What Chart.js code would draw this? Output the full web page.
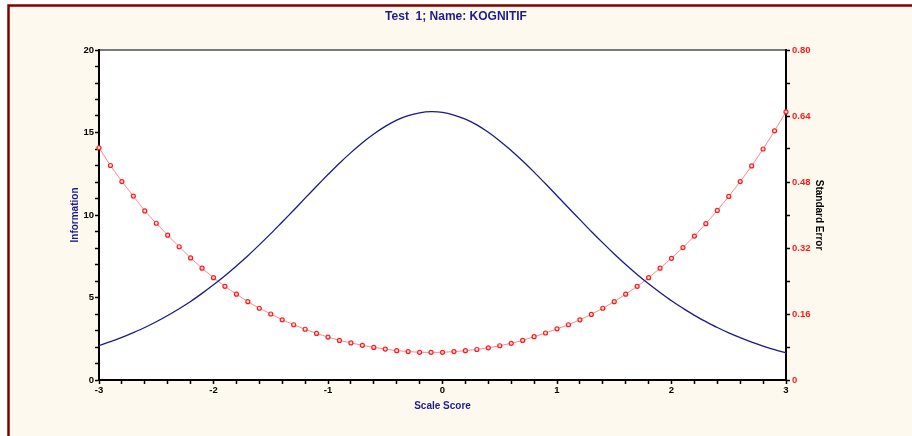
<!DOCTYPE html>
<html lang="en">
<head>
<meta charset="UTF-8">
<script src="https://cdn.jsdelivr.net/npm/chart.js"></script>
<style>
    html, body { margin: 0; padding: 0; background: #fff; }
    #wrap { width: 912px; height: 436px; }
</style>
<title>Test 1 - KOGNITIF</title>
</head>
<body>
<div id="wrap"><canvas id="myChart" width="912" height="436"></canvas></div>
<script>
// scale score grid (x)
const scores = [
    -3.0, -2.9, -2.8, -2.7, -2.6, -2.5, -2.4, -2.3, -2.2, -2.1,
    -2.0, -1.9, -1.8, -1.7, -1.6, -1.5, -1.4, -1.3, -1.2, -1.1,
    -1.0, -0.9, -0.8, -0.7, -0.6, -0.5, -0.4, -0.3, -0.2, -0.1,
     0.0,  0.1,  0.2,  0.3,  0.4,  0.5,  0.6,  0.7,  0.8,  0.9,
     1.0,  1.1,  1.2,  1.3,  1.4,  1.5,  1.6,  1.7,  1.8,  1.9,
     2.0,  2.1,  2.2,  2.3,  2.4,  2.5,  2.6,  2.7,  2.8,  2.9,  3.0
];

// test information (left axis)
const information = [
     2.08,  2.32,  2.58,  2.87,  3.18,  3.53,  3.91,  4.32,  4.76,  5.25,
     5.77,  6.32,  6.91,  7.53,  8.19,  8.87,  9.58, 10.29, 11.02, 11.74,
    12.45, 13.14, 13.78, 14.38, 14.91, 15.37, 15.75, 16.02, 16.19, 16.26,
    16.22, 16.06, 15.81, 15.46, 15.01, 14.49, 13.91, 13.27, 12.60, 11.89,
    11.17, 10.44,  9.72,  9.00,  8.31,  7.64,  7.00,  6.40,  5.83,  5.30,
     4.80,  4.35,  3.92,  3.54,  3.18,  2.86,  2.57,  2.30,  2.06,  1.84,  1.65
];

// standard error (right axis)
const stdError = [
    0.563, 0.520, 0.481, 0.446, 0.410, 0.380, 0.351, 0.323, 0.296, 0.271,
    0.248, 0.227, 0.208, 0.190, 0.174, 0.160, 0.146, 0.134, 0.123, 0.113,
    0.104, 0.096, 0.090, 0.084, 0.079, 0.075, 0.071, 0.069, 0.067, 0.067,
    0.067, 0.069, 0.071, 0.074, 0.078, 0.083, 0.089, 0.096, 0.105, 0.114,
    0.124, 0.134, 0.146, 0.159, 0.174, 0.190, 0.208, 0.227, 0.248, 0.271,
    0.295, 0.321, 0.349, 0.379, 0.411, 0.445, 0.481, 0.519, 0.560, 0.604, 0.650
];

// labelled ticks
const scoreLabels = [-3, -2, -1, 0, 1, 2, 3];
const infoLabels = [0, 5, 10, 15, 20];
const seLabels = [0, 0.16, 0.32, 0.48, 0.64, 0.80];

const FONT = "'Liberation Sans', Arial, sans-serif";
const NAVY = '#1c1c8e';

function near(v, list) {
    return list.some(t => Math.abs(t - v) < 1e-6);
}

// cream panel, dark red frame, white plot area
const framePlugin = {
    id: 'frame',
    beforeDraw: (chart) => {
        const ctx = chart.ctx;
        const a = chart.chartArea;
        const w = chart.width, h = chart.height;
        ctx.save();
        ctx.fillStyle = '#ffffff';
        ctx.fillRect(0, 0, w, h);
        ctx.fillStyle = '#fef9ee';
        ctx.fillRect(9, 6, w, h);
        ctx.strokeStyle = '#800000';
        ctx.lineWidth = 2.5;
        ctx.beginPath();
        ctx.moveTo(8.5, h + 5);
        ctx.lineTo(8.5, 5.5);
        ctx.lineTo(w + 5, 5.5);
        ctx.stroke();
        ctx.fillStyle = '#ffffff';
        ctx.fillRect(a.left, a.top, a.right - a.left, a.bottom - a.top);
        ctx.strokeStyle = '#7a7a7a';
        ctx.lineWidth = 2;
        ctx.beginPath();
        ctx.moveTo(a.left, a.top);
        ctx.lineTo(a.right, a.top);
        ctx.stroke();
        ctx.restore();
    }
};

const data = {
    datasets: [
        {
            label: 'Information',
            data: scores.map((s, i) => ({ x: s, y: information[i] })),
            yAxisID: 'y',
            borderColor: '#1a1a8a',
            borderWidth: 1.3,
            pointRadius: 0,
            tension: 0.3,
        },
        {
            label: 'Standard Error',
            data: scores.map((s, i) => ({ x: s, y: stdError[i] })),
            yAxisID: 'y1',
            borderColor: '#ff8a8a',
            borderWidth: 1,
            pointRadius: 2,
            pointBorderWidth: 1.2,
            pointBorderColor: '#ff1a1a',
            pointBackgroundColor: '#ffe0e0',
            clip: 4,
        }
    ]
};

const tickFont = { family: FONT, size: 9.5, weight: 'bold' };
const titleFont = { family: FONT, size: 10, weight: 'bold' };

const config = {
    type: 'line',
    data: data,
    plugins: [framePlugin],
    options: {
        responsive: false,
        animation: false,
        events: [],
        layout: { padding: 0 },
        plugins: {
            legend: { display: false },
            tooltip: { enabled: false },
            title: {
                display: true,
                text: 'Test  1; Name: KOGNITIF',
                color: NAVY,
                font: { family: FONT, size: 12, weight: 'bold' },
                padding: { top: 9, bottom: 26.6 }
            }
        },
        scales: {
            x: {
                type: 'linear',
                min: -3,
                max: 3,
                afterFit: (s) => { s.height = 56; },
                ticks: {
                    stepSize: 0.2,
                    autoSkip: false,
                    maxRotation: 0,
                    padding: 1,
                    color: '#000',
                    font: tickFont,
                    callback: (v) => near(v, scoreLabels) ? String(Math.round(v)) : ''
                },
                grid: { drawOnChartArea: false, tickLength: 4, tickColor: '#000', tickWidth: 1.5 },
                border: { color: '#000', width: 2 },
                title: { display: true, text: 'Scale Score', color: NAVY, font: titleFont, padding: { top: 0, bottom: 24 } }
            },
            y: {
                position: 'left',
                min: 0,
                max: 20,
                afterFit: (s) => { s.width = 99; },
                ticks: {
                    stepSize: 1,
                    autoSkip: false,
                    padding: 1,
                    color: '#000',
                    font: tickFont,
                    callback: (v) => near(v, infoLabels) ? String(v) : ''
                },
                grid: { drawOnChartArea: false, tickLength: 4, tickColor: '#000', tickWidth: 1.5 },
                border: { color: '#000', width: 2 },
                title: { display: true, text: 'Information', color: NAVY, font: titleFont, padding: { top: 69, bottom: 0 } }
            },
            y1: {
                position: 'right',
                min: 0,
                max: 0.8,
                afterFit: (s) => { s.width = 126; },
                ticks: {
                    stepSize: 0.08,
                    autoSkip: false,
                    padding: 2,
                    color: '#ff1a1a',
                    font: tickFont,
                    callback: (v) => {
                        if (!near(v, seLabels)) return '';
                        return v === 0 ? '0' : v.toFixed(2);
                    }
                },
                grid: { drawOnChartArea: false, tickLength: 4, tickColor: '#000', tickWidth: 1.5 },
                border: { color: '#000', width: 2 },
                title: { display: true, text: 'Standard Error', color: '#000', font: titleFont, padding: { top: 87, bottom: 0 } }
            }
        }
    }
};

const myChart = new Chart(document.getElementById('myChart').getContext('2d'), config);
</script>
</body>
</html>
